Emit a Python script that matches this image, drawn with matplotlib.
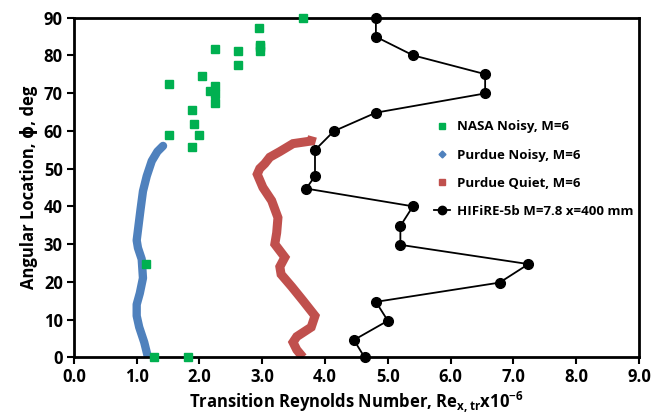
import matplotlib
matplotlib.use("Agg")
import matplotlib.pyplot as plt
from matplotlib.lines import Line2D

plt.rcParams['font.family'] = ['Open Sans', 'DejaVu Sans']
plt.rcParams['font.weight'] = 'bold'
plt.rcParams['mathtext.fontset'] = 'custom'
plt.rcParams['mathtext.rm'] = 'Open Sans:bold'
plt.rcParams['mathtext.it'] = 'Open Sans:bold'
plt.rcParams['mathtext.default'] = 'rm'

# NASA Noisy, M=6 (scattered points)
nasa_re = [3.65, 2.95, 2.96, 2.96, 2.96, 2.61, 2.61, 2.25, 2.04, 1.52, 2.25, 2.17,
           2.25, 2.25, 1.88, 1.91, 2.00, 1.52, 1.88, 1.15, 1.27, 1.81]
nasa_phi = [90, 87.3, 82.8, 82.2, 81.1, 81.1, 77.5, 81.6, 74.6, 72.3, 71.9, 70.6,
            69.7, 67.4, 65.6, 61.9, 58.9, 58.9, 55.7, 24.7, 0, 0]

# Purdue Noisy, M=6 (dense curve)
pn_re = [1.18, 1.12, 1.04, 1.00, 1.00, 1.05, 1.10, 1.08, 1.02, 1.00, 1.03, 1.06,
         1.10, 1.16, 1.24, 1.33, 1.42]
pn_phi = [0, 4, 8, 11, 14, 17, 21, 26, 29, 31, 35, 39, 44, 48, 52, 54.5, 56]

# Purdue Quiet, M=6 (dense curve)
pq_re = [3.65, 3.55, 3.49, 3.55, 3.78, 3.84, 3.65, 3.47, 3.30, 3.28, 3.36, 3.20,
         3.23, 3.25, 3.15, 3.01, 2.92, 2.96, 3.04, 3.12, 3.28, 3.49, 3.78, 3.80]
pq_phi = [0, 2, 4, 5.5, 8, 11, 15, 18.7, 22, 24, 26.5, 30, 33, 37, 41.5, 45,
          48.5, 50, 51.3, 53, 54.5, 56.6, 57.3, 58.5]

# HIFiRE-5b M=7.8 x=400 mm
hf_re = [4.63, 4.46, 5.00, 4.81, 6.78, 7.24, 5.20, 5.20, 5.40, 3.70, 3.84, 3.84,
         4.14, 4.81, 6.55, 6.55, 5.40, 4.81, 4.81]
hf_phi = [0, 4.6, 9.7, 14.7, 19.8, 24.7, 29.8, 34.8, 40, 44.7, 48, 54.9,
          59.9, 64.8, 69.9, 75, 80, 84.9, 90]

green = '#00b050'
blue = '#4f81bd'
red = '#c0504d'

fig = plt.figure(figsize=(6.54, 4.17), dpi=100)
ax = fig.add_axes([0.113, 0.143, 0.864, 0.815])

ax.plot(pn_re, pn_phi, color=blue, lw=6, solid_capstyle='round', zorder=2)
ax.plot(pq_re, pq_phi, color=red, lw=6.5, solid_capstyle='butt',
        solid_joinstyle='miter', zorder=2)
ax.plot(hf_re, hf_phi, color='black', lw=1.3, marker='o', ms=7, zorder=4,
        clip_on=False)
ax.plot(nasa_re, nasa_phi, ls='none', marker='s', ms=5.5, color=green,
        zorder=3, clip_on=False)

ax.set_xlim(0, 9)
ax.set_ylim(0, 90)
ax.set_xticks(range(0, 10))
ax.set_xticklabels([f'{v:.1f}' for v in range(0, 10)])
ax.set_yticks(range(0, 100, 10))
ax.tick_params(direction='out', length=5, width=1.5, labelsize=12, pad=3)
for lbl in ax.get_xticklabels() + ax.get_yticklabels():
    lbl.set_fontweight('bold')
for s in ax.spines.values():
    s.set_linewidth(2)

ax.set_xlabel('Transition Reynolds Number, Re$_{x,tr}$x10$^{-6}$',
              fontsize=12, fontweight='bold', labelpad=2)
ax.set_ylabel('Angular Location, ϕ, deg', fontsize=12,
              fontweight='bold', labelpad=4)

handles = [
    Line2D([], [], ls='none', marker='s', ms=5, color=green),
    Line2D([], [], ls='none', marker='D', ms=3.5, color=blue),
    Line2D([], [], ls='none', marker='s', ms=5, color=red),
    Line2D([], [], color='black', lw=1.3, marker='o', ms=6),
]
labels = ['NASA Noisy, M=6', 'Purdue Noisy, M=6', 'Purdue Quiet, M=6',
          'HIFiRE-5b M=7.8 x=400 mm']
leg = ax.legend(handles, labels, loc='upper left', bbox_to_anchor=(0.617, 0.732),
                frameon=False, fontsize=9.5, handlelength=1.2,
                handletextpad=0.5, labelspacing=1.15)
for t in leg.get_texts():
    t.set_fontweight('bold')

fig.savefig('out.png', dpi=100)
